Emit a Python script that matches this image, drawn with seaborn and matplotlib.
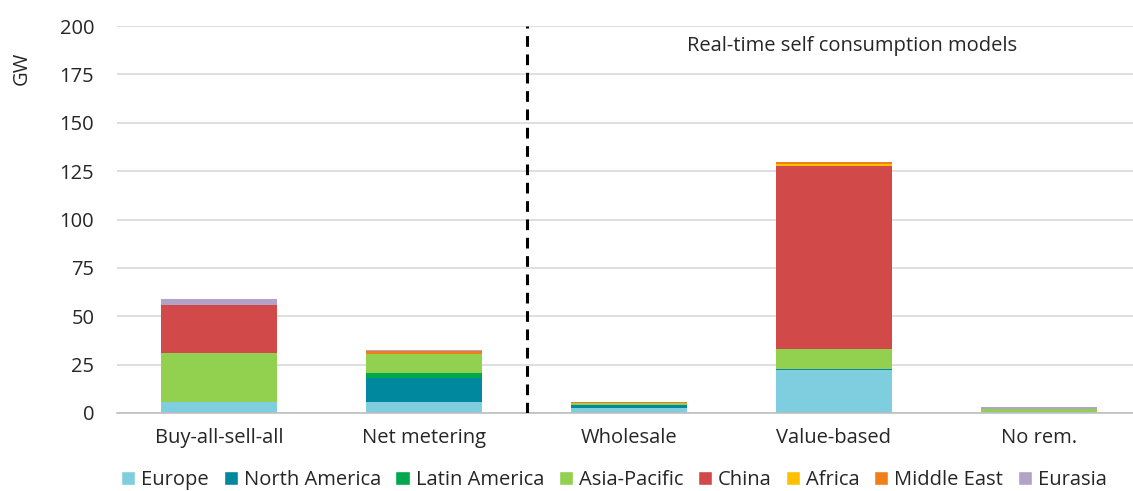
import numpy as np
import pandas as pd
import matplotlib
matplotlib.use("Agg")
import matplotlib.pyplot as plt
import seaborn as sns
from matplotlib.patches import Patch

categories = ["Buy-all-sell-all", "Net metering", "Wholesale", "Value-based", "No rem."]
series_names = ["Europe", "North America", "Latin America", "Asia-Pacific",
                "China", "Africa", "Middle East", "Eurasia"]
europe = [5.8, 5.8, 2.5, 22.3, 0.3]
north_america = [0.0, 12.5, 1.5, 0.5, 0.0]
latin_america = [0.0, 2.4, 0.3, 0.0, 0.0]
asia_pacific = [25.4, 9.8, 0.7, 10.4, 1.6]
china = [24.4, 0.0, 0.0, 94.6, 0.0]
africa = [0.0, 0.2, 0.2, 0.9, 0.0]
middle_east = [0.3, 1.2, 0.5, 0.8, 0.1]
eurasia = [3.1, 0.9, 0.2, 0.0, 0.9]
colors = ["#7FCEE0", "#00889E", "#00A94F", "#92D050",
          "#D2494A", "#FFC000", "#F07F1A", "#B3A2C7"]
yticks = [0, 25, 50, 75, 100, 125, 150, 175, 200]
annotation = "Real-time self consumption models"

sns.set_theme(style="white")
plt.rcParams["font.family"] = ["Open Sans", "DejaVu Sans"]
txt = "#262626"
fs = 14.5

fig = plt.figure(figsize=(11.33, 4.91), dpi=100)
ax = fig.add_axes([116.5 / 1133, (491 - 413) / 491, 1025 / 1133, 387 / 491])

data = np.array([europe, north_america, latin_america, asia_pacific,
                 china, africa, middle_east, eurasia])
cum = np.cumsum(data, axis=0)

for i in range(len(series_names) - 1, -1, -1):
    df = pd.DataFrame({"cat": categories, "val": cum[i]})
    sns.barplot(data=df, x="cat", y="val", color=colors[i], width=0.566,
                saturation=1, errorbar=None, ax=ax, zorder=2, linewidth=0)

ax.set_xlim(-0.5, 4.5)
ax.set_ylim(0, 200)
ax.set_yticks(yticks)
ax.set_yticklabels([str(v) for v in yticks], fontsize=fs, color=txt)
ax.yaxis.grid(True, color="#D9D9D9", linewidth=1.2, zorder=0)
ax.set_axisbelow(True)
ax.tick_params(axis="y", length=0, pad=16)
ax.tick_params(axis="x", which="major", length=0, pad=11, labelsize=fs, labelcolor=txt)
ax.set_xticks(np.arange(-0.5, 5.0, 1.0), minor=True)
ax.tick_params(axis="x", which="minor", length=6, color="#BFBFBF", width=1)
ax.set_xlabel("")
ax.set_ylabel("GW", fontsize=fs, color=txt)
ax.yaxis.set_label_coords(-0.083, 0.89)
for s in ["top", "right", "left"]:
    ax.spines[s].set_visible(False)
ax.spines["bottom"].set_color("#BFBFBF")
ax.spines["bottom"].set_linewidth(1.2)

ax.axvline(1.5, color="black", linewidth=2.2, linestyle=(0, (3.5, 2.5)), zorder=3)
ax.text(3.088, 189.7, annotation, fontsize=fs, color=txt, ha="center", va="center")

handles = [Patch(facecolor=c, label=n) for c, n in zip(colors, series_names)]
fig.legend(handles=handles, loc="lower center", bbox_to_anchor=(0.542, -0.035),
           ncol=8, frameon=False, fontsize=fs, handlelength=0.7, handleheight=0.7,
           handletextpad=0.3, columnspacing=0.72, labelcolor=txt)

fig.savefig("out.png", dpi=100)
